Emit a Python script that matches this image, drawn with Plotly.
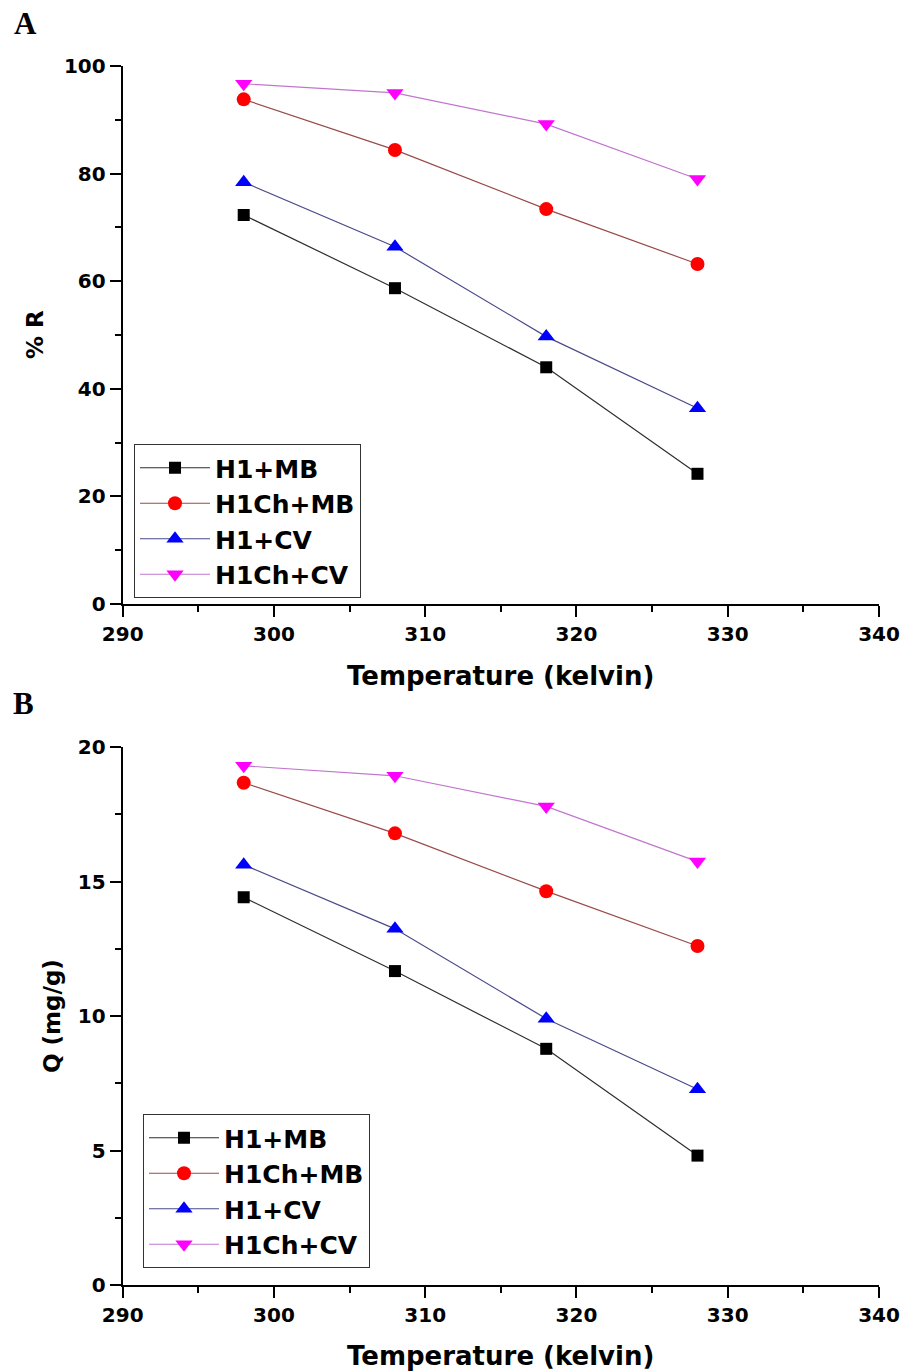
import plotly.graph_objects as go

# Adsorption of MB and CV dyes on H1 / H1Ch versus temperature
temperature_k = [298, 308, 318, 328]
series_names = ["H1+MB", "H1Ch+MB", "H1+CV", "H1Ch+CV"]

# Panel A: removal percentage (% R)
removal_h1_mb = [72.3, 58.7, 44.0, 24.2]
removal_h1ch_mb = [93.8, 84.4, 73.4, 63.2]
removal_h1_cv = [78.4, 66.4, 49.7, 36.4]
removal_h1ch_cv = [96.7, 95.0, 89.2, 79.0]

# Panel B: adsorption capacity Q (mg/g)
capacity_h1_mb = [14.41, 11.67, 8.78, 4.81]
capacity_h1ch_mb = [18.67, 16.79, 14.64, 12.6]
capacity_h1_cv = [15.62, 13.24, 9.9, 7.28]
capacity_h1ch_cv = [19.3, 18.93, 17.79, 15.74]

line_colors = ["#2e2e2e", "#9a4a4a", "#4a4a88", "#c275cf"]
marker_colors = ["#000000", "#ff0000", "#0000ff", "#ff00ff"]
symbols = ["square", "circle", "triangle-up", "triangle-down"]
marker_sizes = [12, 14, 15, 15]

W, H = 904, 1371
FONT = "DejaVu Sans"

fig = go.Figure()


def add_panel(values_list, xa, ya, legend_name):
    for name, vals, lc, mc, sym, ms in zip(series_names, values_list, line_colors,
                                           marker_colors, symbols, marker_sizes):
        fig.add_trace(go.Scatter(
            x=temperature_k, y=vals, name=name, mode="lines+markers",
            line=dict(color=lc, width=1.2),
            marker=dict(symbol=sym, size=ms, color=mc, line=dict(width=0)),
            xaxis=xa, yaxis=ya, legend=legend_name,
        ))


add_panel([removal_h1_mb, removal_h1ch_mb, removal_h1_cv, removal_h1ch_cv], "x", "y", "legend")
add_panel([capacity_h1_mb, capacity_h1ch_mb, capacity_h1_cv, capacity_h1ch_cv], "x2", "y2", "legend2")

x_left, x_right = 122.7, 879.0
a_top, a_bot = 66.0, 604.0
b_top, b_bot = 747.0, 1285.0


def py(p):
    return 1 - p / H


xdom = [x_left / W, x_right / W]

axis_common = dict(
    showline=True, linecolor="black", linewidth=2,
    ticks="outside", ticklen=11, tickwidth=2, tickcolor="black",
    showgrid=False, zeroline=False,
    tickfont=dict(family=FONT, size=20, color="black", weight="bold"),
    automargin=False,
)

xaxis_cfg = dict(axis_common, range=[290, 340], dtick=10, tick0=290, domain=xdom,
                 minor=dict(dtick=5, ticklen=6, tickwidth=2, tickcolor="black", ticks="outside"))

legend_common = dict(xanchor="left", yanchor="top",
                     bordercolor="#333333", borderwidth=1, bgcolor="white",
                     font=dict(family=FONT, size=25, color="black", weight="bold"),
                     itemwidth=70, tracegroupgap=0)

fig.update_layout(
    width=W, height=H,
    margin=dict(l=0, r=0, t=0, b=0),
    paper_bgcolor="white", plot_bgcolor="white",
    xaxis=dict(xaxis_cfg, anchor="y"),
    yaxis=dict(axis_common, range=[0, 100], dtick=20, tick0=0, anchor="x",
               domain=[py(a_bot), py(a_top)],
               minor=dict(dtick=10, ticklen=6, tickwidth=2, tickcolor="black", ticks="outside")),
    xaxis2=dict(xaxis_cfg, anchor="y2"),
    yaxis2=dict(axis_common, range=[0, 20], dtick=5, tick0=0, anchor="x2",
                domain=[py(b_bot), py(b_top)],
                minor=dict(dtick=2.5, ticklen=6, tickwidth=2, tickcolor="black", ticks="outside")),
    legend=dict(legend_common, x=134 / W, y=py(444)),
    legend2=dict(legend_common, x=143 / W, y=py(1114)),
    showlegend=True,
)

title_font = dict(family=FONT, size=26, color="black", weight="bold")
ytitle_font = dict(family=FONT, size=23, color="black", weight="bold")
panel_font = dict(family="Liberation Serif", size=31, color="black", weight="bold")

annotations = [
    dict(text="Temperature (kelvin)", x=(x_left + x_right) / 2 / W, y=py(676),
         font=title_font),
    dict(text="Temperature (kelvin)", x=(x_left + x_right) / 2 / W, y=py(1356),
         font=title_font),
    dict(text="% R", x=35 / W, y=py((a_top + a_bot) / 2), textangle=-90, font=ytitle_font),
    dict(text="Q (mg/g)", x=52 / W, y=py((b_top + b_bot) / 2), textangle=-90, font=ytitle_font),
    dict(text="A", x=25 / W, y=py(24), font=panel_font),
    dict(text="B", x=23 / W, y=py(703), font=panel_font),
]
for a in annotations:
    a.update(xref="paper", yref="paper", xanchor="center", yanchor="middle", showarrow=False)
fig.update_layout(annotations=annotations)

fig.write_html("out.html")
